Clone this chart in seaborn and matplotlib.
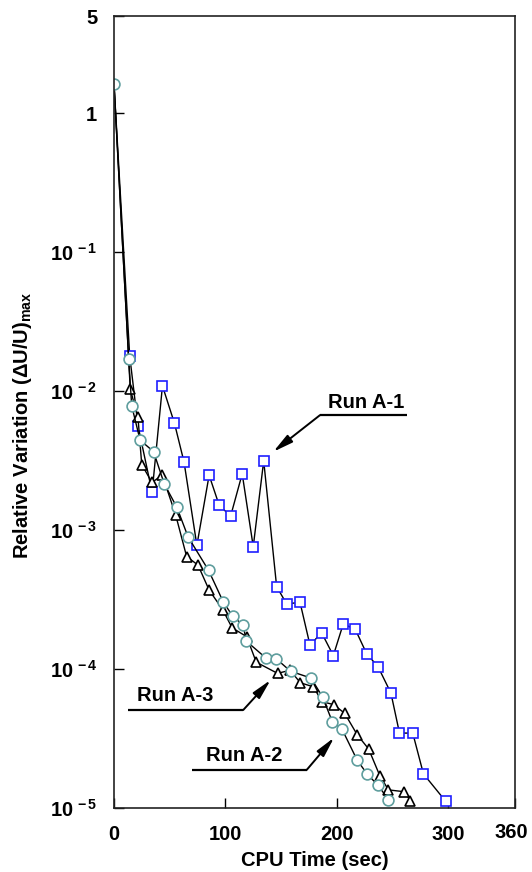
import matplotlib
matplotlib.use("Agg")
import matplotlib.pyplot as plt
import pandas as pd
import seaborn as sns

# CPU time (sec) and relative variation for each run
a1_time = [0, 14.1, 21.6, 34.2, 43.5, 54.3, 62.9, 74.4, 85.4, 94.4, 104.7, 115.1,
           125.0, 134.4, 146.0, 155.0, 167.0, 176.0, 186.3, 196.9, 205.8, 216.6,
           226.8, 237.0, 248.6, 256.3, 268.2, 277.8, 297.7]
a1_var = [1.62, 1.79e-2, 5.6e-3, 1.87e-3, 1.09e-2, 5.86e-3, 3.08e-3, 7.76e-4,
          2.48e-3, 1.51e-3, 1.26e-3, 2.54e-3, 7.59e-4, 3.15e-3, 3.92e-4, 2.94e-4,
          3.02e-4, 1.48e-4, 1.83e-4, 1.25e-4, 2.11e-4, 1.93e-4, 1.29e-4, 1.04e-4,
          6.72e-5, 3.46e-5, 3.46e-5, 1.76e-5, 1.12e-5]

a2_time = [0, 13.2, 15.9, 23.4, 35.5, 45.1, 56.4, 66.5, 84.9, 98.0, 106.7, 116.0,
           118.7, 136.4, 145.4, 158.5, 176.9, 187.2, 196.0, 204.5, 218.3, 227.4,
           236.9, 246.4]
a2_var = [1.62, 1.69e-2, 7.84e-3, 4.44e-3, 3.67e-3, 2.15e-3, 1.46e-3, 8.93e-4,
          5.13e-4, 3.05e-4, 2.39e-4, 2.07e-4, 1.59e-4, 1.20e-4, 1.19e-4, 9.64e-5,
          8.61e-5, 6.30e-5, 4.18e-5, 3.72e-5, 2.21e-5, 1.75e-5, 1.46e-5, 1.15e-5]

a3_time = [0, 14.6, 21.5, 24.9, 34.1, 43.3, 55.3, 65.2, 75.4, 85.4, 97.5, 106.0,
           119.1, 127.7, 146.8, 158.0, 167.4, 178.9, 186.9, 197.1, 207.0, 218.4,
           228.6, 238.6, 246.4, 260.5, 266.1]
a3_var = [1.62, 1.03e-2, 6.5e-3, 2.96e-3, 2.20e-3, 2.49e-3, 1.29e-3, 6.45e-4,
          5.60e-4, 3.70e-4, 2.68e-4, 1.98e-4, 1.71e-4, 1.12e-4, 9.31e-5, 9.79e-5,
          7.96e-5, 7.45e-5, 5.82e-5, 5.55e-5, 4.81e-5, 3.36e-5, 2.66e-5, 1.71e-5,
          1.35e-5, 1.31e-5, 1.13e-5]

x_ticks = [0, 100, 200, 300, 360]
x_tick_labels = ["0", "100", "200", "300", ""]
y_ticks = [1e-5, 1e-4, 1e-3, 1e-2, 1e-1, 1, 5]
y_tick_labels = [r"$10^{\,-5}$", r"$10^{\,-4}$", r"$10^{\,-3}$", r"$10^{\,-2}$",
                 r"$10^{\,-1}$", "1", "5"]

sns.set_style("ticks")
plt.rcParams["font.family"] = ["Liberation Sans", "DejaVu Sans"]
plt.rcParams["font.weight"] = "bold"
plt.rcParams["text.color"] = "black"
plt.rcParams["axes.labelcolor"] = "black"
plt.rcParams["mathtext.fontset"] = "custom"
for key in ("rm", "it", "bf", "sf"):
    plt.rcParams["mathtext." + key] = "Liberation Sans:bold"

fig = plt.figure(figsize=(5.32, 8.72), dpi=100)
ax = fig.add_axes([114 / 532, 64 / 872, 401 / 532, 792 / 872])

line_kw = dict(color="black", lw=1.0, estimator=None, sort=False, ax=ax,
               markerfacecolor="white", markeredgewidth=1.2, legend=False)

sns.lineplot(x=a1_time, y=a1_var, marker="s", markersize=6.8,
             markeredgecolor="#1f1fff", markevery=slice(1, None), **line_kw)
sns.lineplot(x=a3_time, y=a3_var, marker="^", markersize=7.8,
             markeredgecolor="black", markevery=slice(1, None), **line_kw)
sns.lineplot(x=a2_time, y=a2_var, marker="o", markersize=7.8,
             markeredgecolor="#5f9e9e", **line_kw)

ax.set_yscale("log")
ax.set_xlim(0, 360)
ax.set_ylim(1e-5, 5)
ax.set_xticks(x_ticks)
ax.set_xticklabels(x_tick_labels)
ax.set_yticks(y_ticks)
ax.set_yticklabels(y_tick_labels)
ax.minorticks_off()
ax.tick_params(direction="in", length=7.5, width=1.0, labelsize=14.5, pad=12,
               colors="black")
for sp in ax.spines.values():
    sp.set_linewidth(1.2)
    sp.set_color("#222222")
    sp.set_visible(True)

ax.text(357 / 360, -0.019, "360", transform=ax.transAxes, ha="center", va="top",
        fontsize=14.5, fontweight="bold", color="black")

ax.set_xlabel("CPU Time (sec)", fontsize=14.5, fontweight="bold", labelpad=5,
              color="black")
fig.text(23 / 532, 1 - 425 / 872, r"Relative Variation (ΔU/U)$_{max}$",
         rotation=90, ha="center", va="center", fontsize=14.5,
         fontweight="bold", color="black")

# Run labels with underline and pointer arrow
run_labels = [
    ("Run A-1", (226, 7.1e-3), (185, 263, 6.72e-3), (143, 3.66e-3)),
    ("Run A-3", (54.6, 5.5e-5), (12.3, 116, 5.07e-5), (140.6, 8.34e-5)),
    ("Run A-2", (116.6, 2.04e-5), (69.6, 173, 1.88e-5), (197.6, 3.21e-5)),
]
for text, (tx, ty), (ux0, ux1, uy), tip in run_labels:
    ax.text(tx, ty, text, ha="center", va="bottom", fontsize=14.5,
            fontweight="bold", color="black")
    ax.plot([ux0, ux1], [uy, uy], color="black", lw=1.6,
            solid_capstyle="butt")
    corner = (ux0, uy) if tip[0] < ux0 else (ux1, uy)
    ax.annotate("", xy=tip, xytext=corner,
                arrowprops=dict(arrowstyle="-|>,head_length=0.8,head_width=0.18",
                                color="black", lw=1.4, mutation_scale=15,
                                shrinkA=0, shrinkB=0))

fig.savefig("out.png", dpi=100)
